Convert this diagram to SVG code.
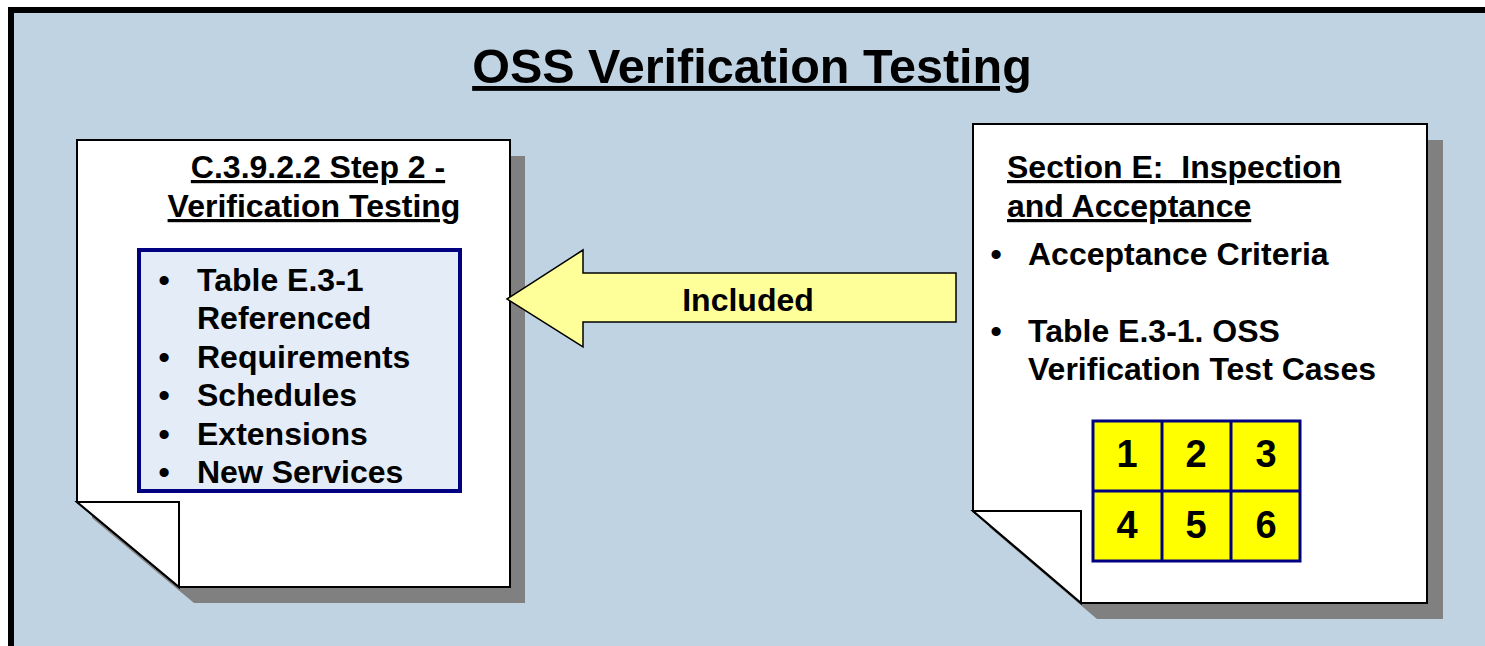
<svg xmlns="http://www.w3.org/2000/svg" width="1485" height="646" viewBox="0 0 1485 646">
<style>
.t{font-family:"Liberation Sans",Arial,sans-serif;font-weight:bold;fill:#000}
.u{text-decoration:underline}
.b{font-size:32px}
.page{fill:#fff;stroke:#000;stroke-width:2;stroke-linejoin:miter}
.shadow{fill:#808080}
.num{font-size:38px;text-anchor:middle}
</style>
<rect x="0" y="0" width="1485" height="646" fill="#fff"/>
<rect id="frame" x="11" y="10" width="1500" height="700" fill="#C0D3E2" stroke="#000" stroke-width="6"/>
<text class="t u" x="752" y="83" font-size="48.5" text-anchor="middle">OSS Verification Testing</text>

<g id="node-step2">
<polygon class="shadow" points="92,156 525,156 525,603 194,603 92,518"/>
<polygon class="page" points="77,140 510,140 510,587 179,587 77,502"/>
<polygon class="page" points="77,502 179,502 179,587"/>
<text class="t u b" x="318" y="178" text-anchor="middle">C.3.9.2.2 Step 2 -</text>
<text class="t u b" x="314" y="217" text-anchor="middle">Verification Testing</text>
<rect x="139" y="250" width="321" height="241" fill="#E4ECF7" stroke="#000080" stroke-width="4"/>
<g class="t b">
<text x="164" y="291" text-anchor="middle">•</text><text x="197" y="291">Table E.3-1</text>
<text x="197" y="329">Referenced</text>
<text x="164" y="368" text-anchor="middle">•</text><text x="197" y="368">Requirements</text>
<text x="164" y="406" text-anchor="middle">•</text><text x="197" y="406">Schedules</text>
<text x="164" y="445" text-anchor="middle">•</text><text x="197" y="445">Extensions</text>
<text x="164" y="483" text-anchor="middle">•</text><text x="197" y="483">New Services</text>
</g>
</g>

<g id="node-sectionE">
<polygon class="shadow" points="989,140 1443,140 1443,619 1097,619 989,527"/>
<polygon class="page" points="973,124 1427,124 1427,603 1081,603 973,511"/>
<polygon class="page" points="973,511 1081,511 1081,603"/>
<text class="t u b" x="1007" y="178">Section E:&#160; Inspection</text>
<text class="t u b" x="1007" y="217">and Acceptance</text>
<g class="t b">
<text x="996" y="265" text-anchor="middle">•</text><text x="1028" y="265">Acceptance Criteria</text>
<text x="996" y="342" text-anchor="middle">•</text><text x="1028" y="342">Table E.3-1. OSS</text>
<text x="1028" y="380">Verification Test Cases</text>
</g>
<g id="grid">
<rect x="1093" y="421" width="207" height="140" fill="#FFFF00" stroke="#000080" stroke-width="3"/>
<line x1="1162" y1="421" x2="1162" y2="561" stroke="#000080" stroke-width="3"/>
<line x1="1231" y1="421" x2="1231" y2="561" stroke="#000080" stroke-width="3"/>
<line x1="1093" y1="491" x2="1300" y2="491" stroke="#000080" stroke-width="3"/>
<g class="t num">
<text x="1127" y="467">1</text><text x="1196" y="467">2</text><text x="1266" y="467">3</text>
<text x="1127" y="538">4</text><text x="1196" y="538">5</text><text x="1266" y="538">6</text>
</g>
</g>
</g>

<g id="connectors">
<polygon points="507,299 583,250 583,273 956,273 956,322 583,322 583,347" fill="#FFFF99" stroke="#000" stroke-width="1.5" stroke-linejoin="miter"/>
<text class="t b" x="748" y="311" text-anchor="middle">Included</text>
</g>
</svg>
